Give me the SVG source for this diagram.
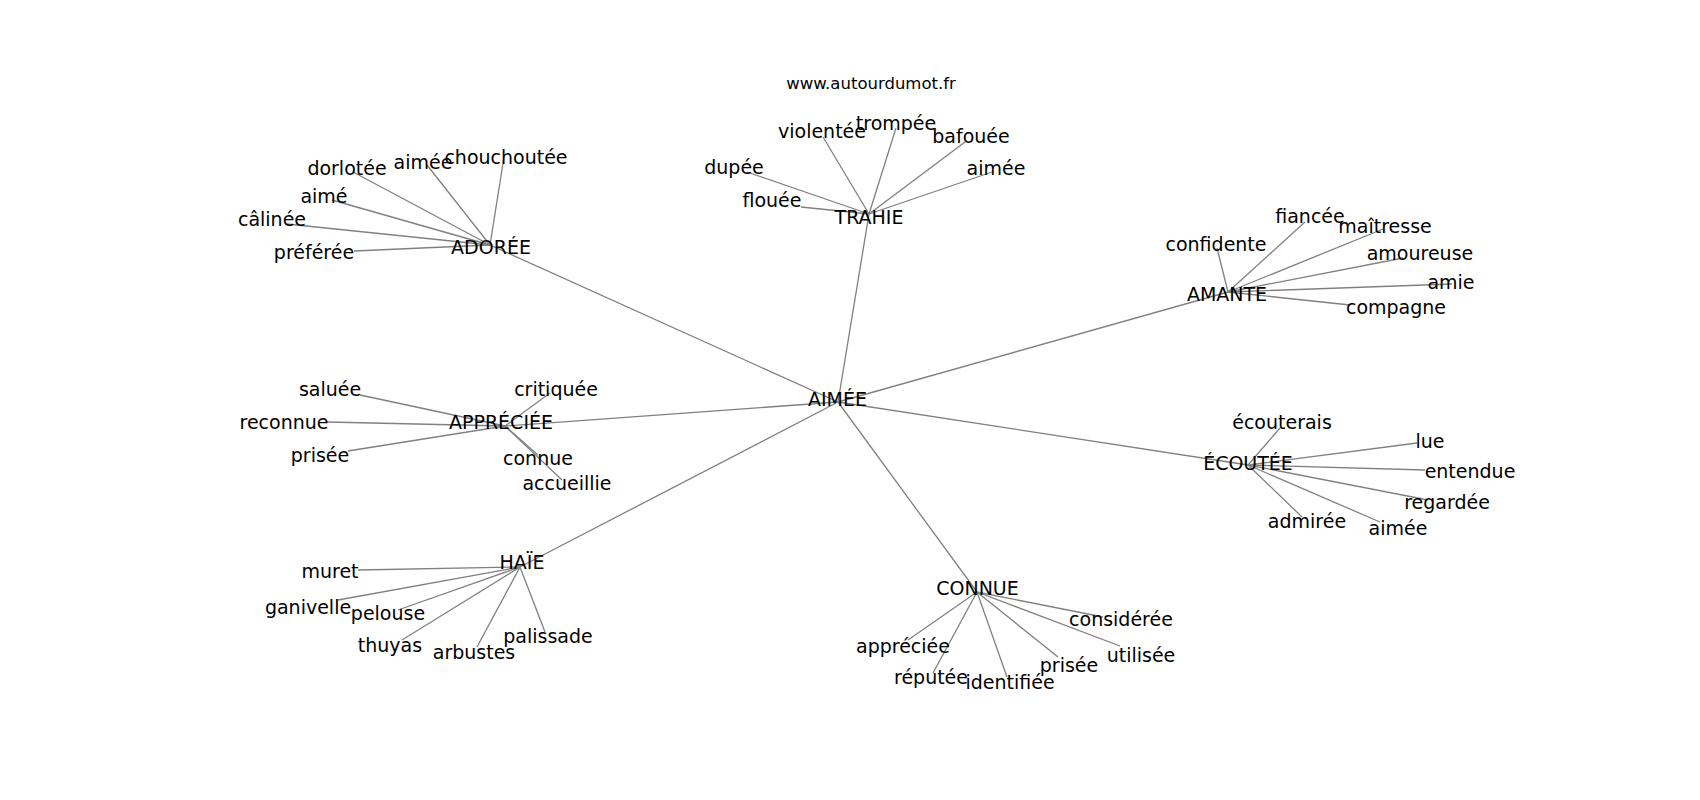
<svg xmlns="http://www.w3.org/2000/svg" width="1700" height="800" viewBox="0 0 1700 800">
<style>
.lbl{font-family:"DejaVu Sans","Liberation Sans",sans-serif;font-size:19px;text-anchor:middle;fill:#000}
.ttl{font-family:"DejaVu Sans","Liberation Sans",sans-serif;font-size:16.5px;text-anchor:middle;fill:#000}
.edges line{stroke:#808080;stroke-width:1.3;fill:none}
</style>
<rect width="1700" height="800" fill="#fff"/>
<text class="ttl" x="871" y="89">www.autourdumot.fr</text>
<g id="connectors" class="edges">
<line x1="838" y1="402" x2="490" y2="245"/>
<line x1="838" y1="402" x2="869" y2="214"/>
<line x1="838" y1="402" x2="1228" y2="292"/>
<line x1="838" y1="402" x2="505" y2="426"/>
<line x1="838" y1="402" x2="1248" y2="465"/>
<line x1="838" y1="402" x2="520" y2="567"/>
<line x1="838" y1="402" x2="977" y2="592"/>
<line x1="490" y1="245" x2="353" y2="172"/>
<line x1="490" y1="245" x2="427" y2="165"/>
<line x1="490" y1="245" x2="504" y2="157"/>
<line x1="490" y1="245" x2="332" y2="200"/>
<line x1="490" y1="245" x2="287" y2="224"/>
<line x1="490" y1="245" x2="354" y2="251"/>
<line x1="869" y1="214" x2="823" y2="137"/>
<line x1="869" y1="214" x2="896" y2="128"/>
<line x1="869" y1="214" x2="965" y2="142"/>
<line x1="869" y1="214" x2="747" y2="172"/>
<line x1="869" y1="214" x2="992" y2="172"/>
<line x1="869" y1="214" x2="801" y2="207"/>
<line x1="1228" y1="292" x2="1217" y2="248"/>
<line x1="1228" y1="292" x2="1305" y2="222"/>
<line x1="1228" y1="292" x2="1383" y2="229"/>
<line x1="1228" y1="292" x2="1403" y2="258"/>
<line x1="1228" y1="292" x2="1452" y2="284"/>
<line x1="1228" y1="292" x2="1350" y2="305"/>
<line x1="505" y1="426" x2="360" y2="395"/>
<line x1="505" y1="426" x2="550" y2="393"/>
<line x1="505" y1="426" x2="327" y2="422"/>
<line x1="505" y1="426" x2="348" y2="451"/>
<line x1="505" y1="426" x2="538" y2="455"/>
<line x1="505" y1="426" x2="562" y2="480"/>
<line x1="1248" y1="465" x2="1280" y2="428"/>
<line x1="1248" y1="465" x2="1417" y2="443"/>
<line x1="1248" y1="465" x2="1425" y2="470"/>
<line x1="1248" y1="465" x2="1428" y2="500"/>
<line x1="1248" y1="465" x2="1302" y2="517"/>
<line x1="1248" y1="465" x2="1380" y2="522"/>
<line x1="520" y1="567" x2="358" y2="570"/>
<line x1="520" y1="567" x2="338" y2="600"/>
<line x1="520" y1="567" x2="398" y2="610"/>
<line x1="520" y1="567" x2="402" y2="640"/>
<line x1="520" y1="567" x2="477" y2="647"/>
<line x1="520" y1="567" x2="545" y2="632"/>
<line x1="977" y1="592" x2="1103" y2="617"/>
<line x1="977" y1="592" x2="1120" y2="646"/>
<line x1="977" y1="592" x2="908" y2="640"/>
<line x1="977" y1="592" x2="933" y2="673"/>
<line x1="977" y1="592" x2="1007" y2="677"/>
<line x1="977" y1="592" x2="1058" y2="657"/>
</g>
<g id="node-aimee"><text class="lbl" x="837.5" y="406">AIMÉE</text></g>
<g id="node-adoree"><text class="lbl" x="491" y="254">ADORÉE</text></g>
<g id="node-adoree-dorlotee"><text class="lbl" x="347" y="175">dorlotée</text></g>
<g id="node-adoree-aimee"><text class="lbl" x="423" y="169">aimée</text></g>
<g id="node-adoree-chouchoutee"><text class="lbl" x="506" y="164">chouchoutée</text></g>
<g id="node-adoree-aime"><text class="lbl" x="324" y="203">aimé</text></g>
<g id="node-adoree-calinee"><text class="lbl" x="272" y="226">câlinée</text></g>
<g id="node-adoree-preferee"><text class="lbl" x="314" y="259">préférée</text></g>
<g id="node-trahie"><text class="lbl" x="869" y="224">TRAHIE</text></g>
<g id="node-trahie-violentee"><text class="lbl" x="822" y="138">violentée</text></g>
<g id="node-trahie-trompee"><text class="lbl" x="896" y="130">trompée</text></g>
<g id="node-trahie-bafouee"><text class="lbl" x="971" y="143">bafouée</text></g>
<g id="node-trahie-dupee"><text class="lbl" x="734" y="174">dupée</text></g>
<g id="node-trahie-aimee"><text class="lbl" x="996" y="175">aimée</text></g>
<g id="node-trahie-flouee"><text class="lbl" x="772" y="207">flouée</text></g>
<g id="node-amante"><text class="lbl" x="1227" y="301">AMANTE</text></g>
<g id="node-amante-confidente"><text class="lbl" x="1216" y="251">confidente</text></g>
<g id="node-amante-fiancee"><text class="lbl" x="1310" y="223">fiancée</text></g>
<g id="node-amante-maitresse"><text class="lbl" x="1385" y="233">maîtresse</text></g>
<g id="node-amante-amoureuse"><text class="lbl" x="1420" y="260">amoureuse</text></g>
<g id="node-amante-amie"><text class="lbl" x="1451" y="289">amie</text></g>
<g id="node-amante-compagne"><text class="lbl" x="1396" y="314">compagne</text></g>
<g id="node-appreciee"><text class="lbl" x="501" y="429">APPRÉCIÉE</text></g>
<g id="node-appreciee-saluee"><text class="lbl" x="330" y="396">saluée</text></g>
<g id="node-appreciee-critiquee"><text class="lbl" x="556" y="396">critiquée</text></g>
<g id="node-appreciee-reconnue"><text class="lbl" x="284" y="429">reconnue</text></g>
<g id="node-appreciee-prisee"><text class="lbl" x="320" y="462">prisée</text></g>
<g id="node-appreciee-connue"><text class="lbl" x="538" y="465">connue</text></g>
<g id="node-appreciee-accueillie"><text class="lbl" x="567" y="490">accueillie</text></g>
<g id="node-ecoutee"><text class="lbl" x="1248" y="470">ÉCOUTÉE</text></g>
<g id="node-ecoutee-ecouterais"><text class="lbl" x="1282" y="429">écouterais</text></g>
<g id="node-ecoutee-lue"><text class="lbl" x="1430" y="448">lue</text></g>
<g id="node-ecoutee-entendue"><text class="lbl" x="1470" y="478">entendue</text></g>
<g id="node-ecoutee-regardee"><text class="lbl" x="1447" y="509">regardée</text></g>
<g id="node-ecoutee-admiree"><text class="lbl" x="1307" y="528">admirée</text></g>
<g id="node-ecoutee-aimee"><text class="lbl" x="1398" y="535">aimée</text></g>
<g id="node-haie"><text class="lbl" x="522" y="569">HAÏE</text></g>
<g id="node-haie-muret"><text class="lbl" x="330" y="578">muret</text></g>
<g id="node-haie-ganivelle"><text class="lbl" x="308" y="614">ganivelle</text></g>
<g id="node-haie-pelouse"><text class="lbl" x="388" y="620">pelouse</text></g>
<g id="node-haie-thuyas"><text class="lbl" x="390" y="652">thuyas</text></g>
<g id="node-haie-arbustes"><text class="lbl" x="474" y="659">arbustes</text></g>
<g id="node-haie-palissade"><text class="lbl" x="548" y="643">palissade</text></g>
<g id="node-connue"><text class="lbl" x="977.5" y="595">CONNUE</text></g>
<g id="node-connue-consideree"><text class="lbl" x="1121" y="626">considérée</text></g>
<g id="node-connue-utilisee"><text class="lbl" x="1141" y="662">utilisée</text></g>
<g id="node-connue-appreciee"><text class="lbl" x="903" y="653">appréciée</text></g>
<g id="node-connue-reputee"><text class="lbl" x="931" y="684">réputée</text></g>
<g id="node-connue-identifiee"><text class="lbl" x="1010" y="689">identifiée</text></g>
<g id="node-connue-prisee"><text class="lbl" x="1069" y="672">prisée</text></g>
</svg>
